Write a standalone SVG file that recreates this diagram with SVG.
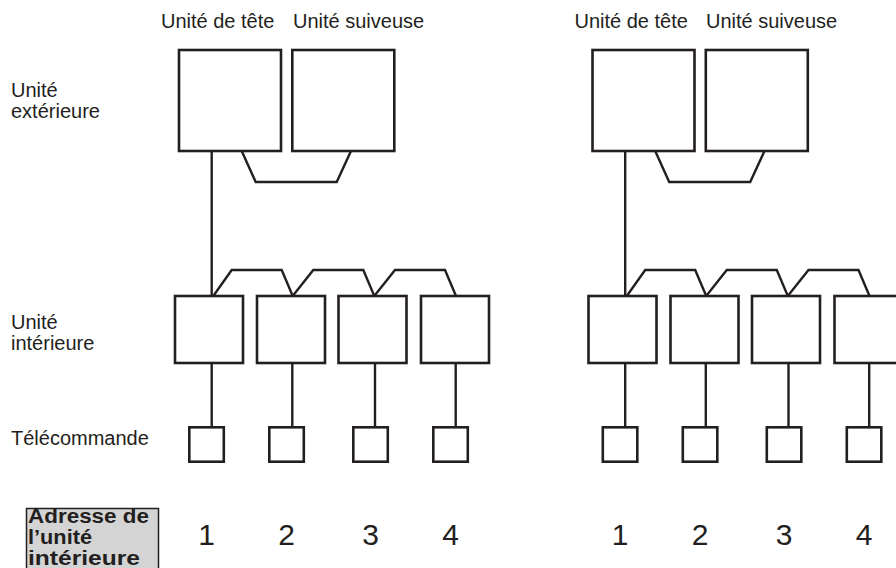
<svg xmlns="http://www.w3.org/2000/svg" width="896" height="568" viewBox="0 0 896 568">
<style>
.box{fill:#fff;stroke:#231f20;stroke-width:2.6}
.ln{fill:none;stroke:#231f20;stroke-width:2.4;stroke-linejoin:miter}
.lbl{font-family:"Liberation Sans",Arial,sans-serif;font-size:20px;fill:#231f20}
.num{font-family:"Liberation Sans",Arial,sans-serif;font-size:30px;fill:#231f20;text-anchor:middle}
.addr{font-family:"Liberation Sans",Arial,sans-serif;font-size:19.5px;font-weight:bold;fill:#231f20}
</style>
<rect width="896" height="568" fill="#fff"/>
<g id="labels">
<text class="lbl" x="161" y="28">Unité de tête</text>
<text class="lbl" x="293" y="28">Unité suiveuse</text>
<text class="lbl" x="574.5" y="28">Unité de tête</text>
<text class="lbl" x="706" y="28">Unité suiveuse</text>
<text class="lbl" x="11" y="97">Unité</text>
<text class="lbl" x="11" y="118">extérieure</text>
<text class="lbl" x="11" y="329">Unité</text>
<text class="lbl" x="11" y="350">intérieure</text>
<text class="lbl" x="11" y="445">Télécommande</text>
</g>
<g id="address-header">
<path d="M26.5,575 V508.5 H158.5 V575" fill="#d4d4d4" stroke="#231f20" stroke-width="1.5"/>
<text class="addr" x="28" y="523" textLength="121" lengthAdjust="spacingAndGlyphs">Adresse de</text>
<text class="addr" x="28" y="544" textLength="64" lengthAdjust="spacingAndGlyphs">l’unité</text>
<text class="addr" x="28" y="565" textLength="112" lengthAdjust="spacingAndGlyphs">intérieure</text>
</g>
<g id="connectors">
<path class="ln" d="M211.7,151 V296"/>
<path class="ln" d="M241.7,151 L255.7,182 H336.7 L351,151"/>
<path class="ln" d="M213.3,296 L231.7,270 H281.7 L292.7,296 L313.3,270 H363.3 L374.3,296 L395,270 H445 L456,296"/>
<path class="ln" d="M211.7,363 V427 M292.3,363 V427 M375,363 V427 M455.7,363 V427"/>
<g transform="translate(413.5,0)">
<path class="ln" d="M211.7,151 V296"/>
<path class="ln" d="M241.7,151 L255.7,182 H336.7 L351,151"/>
<path class="ln" d="M213.3,296 L231.7,270 H281.7 L292.7,296 L313.3,270 H363.3 L374.3,296 L395,270 H445 L456,296"/>
<path class="ln" d="M211.7,363 V427 M292.3,363 V427 M375,363 V427 M455.7,363 V427"/>
</g>
</g>
<g id="L-outdoor-head"><rect class="box" x="179" y="50" width="102" height="101"/></g>
<g id="L-outdoor-follow"><rect class="box" x="292.3" y="50" width="102" height="101"/></g>
<g id="L-indoor-1"><rect class="box" x="175" y="296" width="68" height="67"/></g>
<g id="L-indoor-2"><rect class="box" x="257" y="296" width="68" height="67"/></g>
<g id="L-indoor-3"><rect class="box" x="338.5" y="296" width="68" height="67"/></g>
<g id="L-indoor-4"><rect class="box" x="421" y="296" width="68" height="67"/></g>
<g id="L-remote-1"><rect class="box" x="189.3" y="427.3" width="34.5" height="34.4"/></g>
<g id="L-remote-2"><rect class="box" x="269.3" y="427.3" width="34.5" height="34.4"/></g>
<g id="L-remote-3"><rect class="box" x="353.3" y="427.3" width="34.5" height="34.4"/></g>
<g id="L-remote-4"><rect class="box" x="433.3" y="427.3" width="34.5" height="34.4"/></g>
<g transform="translate(413.5,0)">
<g id="R-outdoor-head"><rect class="box" x="179" y="50" width="102" height="101"/></g>
<g id="R-outdoor-follow"><rect class="box" x="292.3" y="50" width="102" height="101"/></g>
<g id="R-indoor-1"><rect class="box" x="175" y="296" width="68" height="67"/></g>
<g id="R-indoor-2"><rect class="box" x="257" y="296" width="68" height="67"/></g>
<g id="R-indoor-3"><rect class="box" x="338.5" y="296" width="68" height="67"/></g>
<g id="R-indoor-4"><rect class="box" x="421" y="296" width="68" height="67"/></g>
<g id="R-remote-1"><rect class="box" x="189.3" y="427.3" width="34.5" height="34.4"/></g>
<g id="R-remote-2"><rect class="box" x="269.3" y="427.3" width="34.5" height="34.4"/></g>
<g id="R-remote-3"><rect class="box" x="353.3" y="427.3" width="34.5" height="34.4"/></g>
<g id="R-remote-4"><rect class="box" x="433.3" y="427.3" width="34.5" height="34.4"/></g>
</g>
<g id="addresses">
<text class="num" x="206.5" y="545">1</text>
<text class="num" x="286.5" y="545">2</text>
<text class="num" x="370.5" y="545">3</text>
<text class="num" x="450.5" y="545">4</text>
<text class="num" x="620" y="545">1</text>
<text class="num" x="700" y="545">2</text>
<text class="num" x="784" y="545">3</text>
<text class="num" x="864" y="545">4</text>
</g>
</svg>
